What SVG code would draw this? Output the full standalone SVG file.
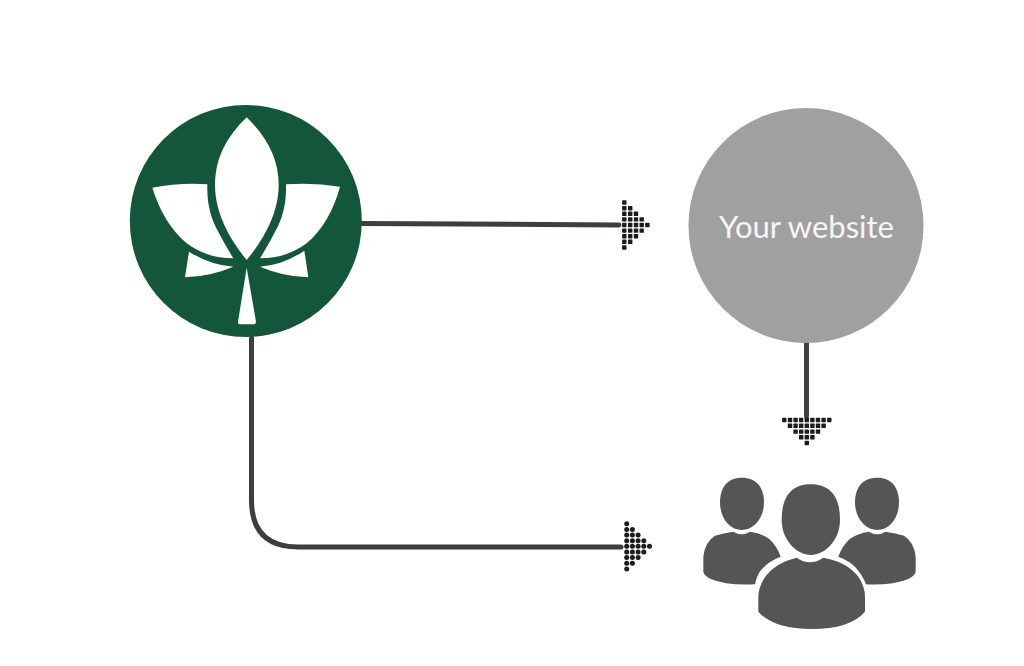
<svg xmlns="http://www.w3.org/2000/svg" xmlns:xlink="http://www.w3.org/1999/xlink" width="1024" height="666" viewBox="0 0 1024 666">
<style>
.line{fill:none;stroke:#3f3d3f;stroke-width:5;stroke-linecap:round}
.sq{fill:#1c1c1c}
.petal{fill:#fff}
.ppl{fill:#555}
.halo{stroke:#fff;stroke-width:20;paint-order:stroke}
.label{font-family:"Lato","Open Sans",sans-serif;font-size:31px;fill:#f6f6f6}
</style>
<defs>
<rect id="s" class="sq" x="-2.200" y="-2.200" width="4.400" height="4.400" rx="0.6"/>
<circle id="c" class="sq" r="2.500"/>
<g id="person">
<path d="M155 38C200 38 222 68 222 112C222 160 190 195 155 195C120 195 90 160 90 112C90 68 112 38 155 38Z"/>
<path d="M75 212Q100 204 130 200Q155 216 180 200Q215 205 238 222Q262 245 272 275Q205 300 195 358Q110 362 62 342Q42 332 40 320L40 275Q45 230 75 212Z"/>
</g>
</defs>
<rect width="1024" height="666" fill="#fff"/>
<g id="connectors">
<path class="line" d="M362 223.500L619 225"/>
<path class="line" d="M806.500 343V416"/>
<path class="line" d="M251.500 338V500Q251.500 547 298 547H621"/>
<g id="arrow-top">
<use xlink:href="#s" x="624.300" y="202.500"/><use xlink:href="#s" x="624.300" y="208.200"/><use xlink:href="#s" x="624.300" y="213.800"/><use xlink:href="#s" x="624.300" y="219.400"/><use xlink:href="#s" x="624.300" y="225"/><use xlink:href="#s" x="624.300" y="230.600"/><use xlink:href="#s" x="624.300" y="236.200"/><use xlink:href="#s" x="624.300" y="241.800"/><use xlink:href="#s" x="624.300" y="247.500"/>
<use xlink:href="#s" x="630.200" y="208.200"/><use xlink:href="#s" x="630.200" y="213.800"/><use xlink:href="#s" x="630.200" y="219.400"/><use xlink:href="#s" x="630.200" y="225"/><use xlink:href="#s" x="630.200" y="230.600"/><use xlink:href="#s" x="630.200" y="236.200"/><use xlink:href="#s" x="630.200" y="241.800"/>
<use xlink:href="#s" x="636" y="213.800"/><use xlink:href="#s" x="636" y="219.400"/><use xlink:href="#s" x="636" y="225"/><use xlink:href="#s" x="636" y="230.600"/><use xlink:href="#s" x="636" y="236.200"/>
<use xlink:href="#s" x="641.700" y="219.400"/><use xlink:href="#s" x="641.700" y="225"/><use xlink:href="#s" x="641.700" y="230.600"/>
<use xlink:href="#s" x="647.400" y="225"/>
</g>
<g id="arrow-down">
<use xlink:href="#s" x="784.300" y="420"/><use xlink:href="#s" x="790" y="420"/><use xlink:href="#s" x="795.600" y="420"/><use xlink:href="#s" x="801.200" y="420"/><use xlink:href="#s" x="806.800" y="420"/><use xlink:href="#s" x="812.400" y="420"/><use xlink:href="#s" x="818" y="420"/><use xlink:href="#s" x="823.600" y="420"/><use xlink:href="#s" x="829.300" y="420"/>
<use xlink:href="#s" x="790" y="425.800"/><use xlink:href="#s" x="795.600" y="425.800"/><use xlink:href="#s" x="801.200" y="425.800"/><use xlink:href="#s" x="806.800" y="425.800"/><use xlink:href="#s" x="812.400" y="425.800"/><use xlink:href="#s" x="818" y="425.800"/><use xlink:href="#s" x="823.600" y="425.800"/>
<use xlink:href="#s" x="795.600" y="431.600"/><use xlink:href="#s" x="801.200" y="431.600"/><use xlink:href="#s" x="806.800" y="431.600"/><use xlink:href="#s" x="812.400" y="431.600"/><use xlink:href="#s" x="818" y="431.600"/>
<use xlink:href="#s" x="801.200" y="437.300"/><use xlink:href="#s" x="806.800" y="437.300"/><use xlink:href="#s" x="812.400" y="437.300"/>
<use xlink:href="#s" x="806.800" y="443"/>
</g>
<g id="arrow-bottom">
<use xlink:href="#c" x="626.700" y="523.700"/><use xlink:href="#c" x="626.700" y="529.400"/><use xlink:href="#c" x="626.700" y="535"/><use xlink:href="#c" x="626.700" y="540.700"/><use xlink:href="#c" x="626.700" y="546.300"/><use xlink:href="#c" x="626.700" y="552"/><use xlink:href="#c" x="626.700" y="557.600"/><use xlink:href="#c" x="626.700" y="563.300"/><use xlink:href="#c" x="626.700" y="569"/>
<use xlink:href="#c" x="632.400" y="529.400"/><use xlink:href="#c" x="632.400" y="535"/><use xlink:href="#c" x="632.400" y="540.700"/><use xlink:href="#c" x="632.400" y="546.300"/><use xlink:href="#c" x="632.400" y="552"/><use xlink:href="#c" x="632.400" y="557.600"/><use xlink:href="#c" x="632.400" y="563.300"/>
<use xlink:href="#c" x="638.100" y="535"/><use xlink:href="#c" x="638.100" y="540.700"/><use xlink:href="#c" x="638.100" y="546.300"/><use xlink:href="#c" x="638.100" y="552"/><use xlink:href="#c" x="638.100" y="557.600"/>
<use xlink:href="#c" x="643.800" y="540.700"/><use xlink:href="#c" x="643.800" y="546.300"/><use xlink:href="#c" x="643.800" y="552"/>
<use xlink:href="#c" x="649.500" y="546.300"/>
</g>
</g>
<g id="logo">
<circle cx="245.800" cy="221" r="116" fill="#13563b"/>
<g transform="translate(120 95) scale(.33333)">
<path class="petal" d="M380 67C440 125 476 190 476 270C476 360 425 440 380 495C335 440 285 360 285 270C285 190 320 125 380 67Z"/>
<path class="petal" d="M97 278Q180 262 262 268C260 330 275 375 292 405Q315 450 340 490Q260 490 200 445Q130 385 97 278Z"/>
<path class="petal" d="M660 275Q580 262 498 268C500 330 485 375 468 405Q445 450 420 490Q500 490 560 445Q630 385 660 275Z"/>
<path class="petal" d="M207 470Q270 510 340 515Q270 545 195 547Z"/>
<path class="petal" d="M553 467Q490 510 420 515Q490 545 565 547Z"/>
<path class="petal" d="M380 518L408 680Q408 688 400 688H362Q353 688 354 680Z"/>
</g>
</g>
<g id="website">
<circle cx="806" cy="225.500" r="117.500" fill="#a0a0a0"/>
<text class="label" x="806.500" y="237.500" text-anchor="middle">Your website</text>
</g>
<g id="users" class="ppl" transform="translate(690 465) scale(.33333)">
<use xlink:href="#person"/>
<use xlink:href="#person" transform="translate(717 0) scale(-1 1)"/>
<path d="M362 58C425 58 450 100 450 165C450 225 405 270 362 270C320 270 275 225 275 165C275 100 300 58 362 58Z"/>
<path class="halo" d="M320 278Q360 305 400 278Q470 290 505 335Q525 365 525 395V440Q480 492 365 492Q250 492 205 440V395Q205 365 228 332Q260 292 320 278Z"/>
</g>
</svg>
